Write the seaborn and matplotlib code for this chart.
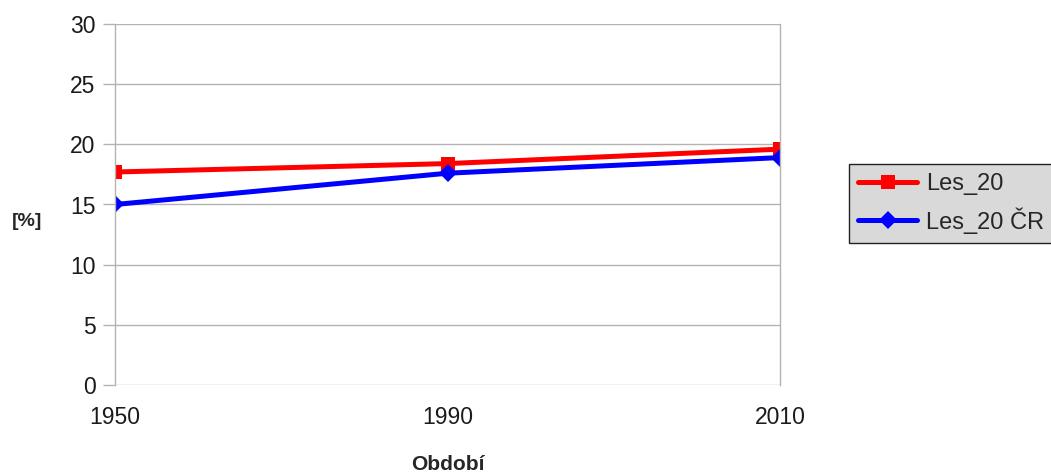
import matplotlib
matplotlib.use("Agg")
import matplotlib.pyplot as plt
import seaborn as sns
import pandas as pd

# Share of forest land (Les_20), region vs. Czech Republic
periods = ["1950", "1990", "2010"]
les_20 = [17.7, 18.4, 19.6]
les_20_cr = [15.0, 17.6, 18.9]
series_names = ["Les_20", "Les_20 ČR"]

df = pd.DataFrame({
    "Období": periods * 2,
    "value": les_20 + les_20_cr,
    "series": [series_names[0]] * len(periods) + [series_names[1]] * len(periods),
})

sns.set_theme(style="white")
plt.rcParams["font.family"] = ["Liberation Sans", "DejaVu Sans"]

fig = plt.figure(figsize=(10.51, 4.73), dpi=100)
ax = fig.add_axes([115 / 1051, 1 - 385 / 473, (780 - 115) / 1051, (385 - 24) / 473])

palette = {series_names[0]: "#ff0000", series_names[1]: "#0000ff"}
markers = {series_names[0]: "s", series_names[1]: "D"}
sizes = {series_names[0]: 10.5, series_names[1]: 9}

for name in series_names:
    sub = df[df["series"] == name]
    sns.lineplot(data=sub, x="Období", y="value", ax=ax, color=palette[name],
                 marker=markers[name], markersize=sizes[name], markeredgewidth=0,
                 linewidth=3.6, label=name, sort=False)

ax.set_xlim(0, 2)
ax.set_ylim(0, 30)
ax.set_yticks(range(0, 31, 5))
ax.grid(axis="y", color="#b3b3b3", linewidth=1)
ax.set_axisbelow(True)
for side in ["top", "bottom"]:
    ax.spines[side].set_visible(False)
for side in ["left", "right"]:
    ax.spines[side].set_color("#b3b3b3")
    ax.spines[side].set_linewidth(1)

ax.tick_params(axis="y", which="both", left=True, length=9, width=1, color="#b3b3b3",
               labelsize=16.5, pad=5, labelcolor="#1a1a1a")
ax.tick_params(axis="x", bottom=False, labelsize=16.5, pad=9, labelcolor="#1a1a1a")

ax.set_xlabel("Období", fontsize=15, fontweight="bold")
ax.xaxis.label.set_verticalalignment("center")
ax.xaxis.set_label_coords(0.5, (385 - 464) / 361)
ax.set_ylabel("[%]", fontsize=14, fontweight="bold", rotation=0,
              ha="center", va="center")
ax.yaxis.set_label_coords((27 - 115) / 665, (385 - 222) / 361)

leg = ax.legend(loc="upper left", bbox_to_anchor=(849 / 1051, 1 - 164 / 473),
                bbox_transform=fig.transFigure, frameon=True, fancybox=False,
                fontsize=17, handlelength=2.5, handletextpad=0.35,
                borderpad=0.4, labelspacing=0.5, borderaxespad=0)
frame = leg.get_frame()
frame.set_facecolor("#d9d9d9")
frame.set_edgecolor("#222222")
frame.set_linewidth(1)
frame.set_alpha(1)

fig.savefig("out.png", dpi=100)
